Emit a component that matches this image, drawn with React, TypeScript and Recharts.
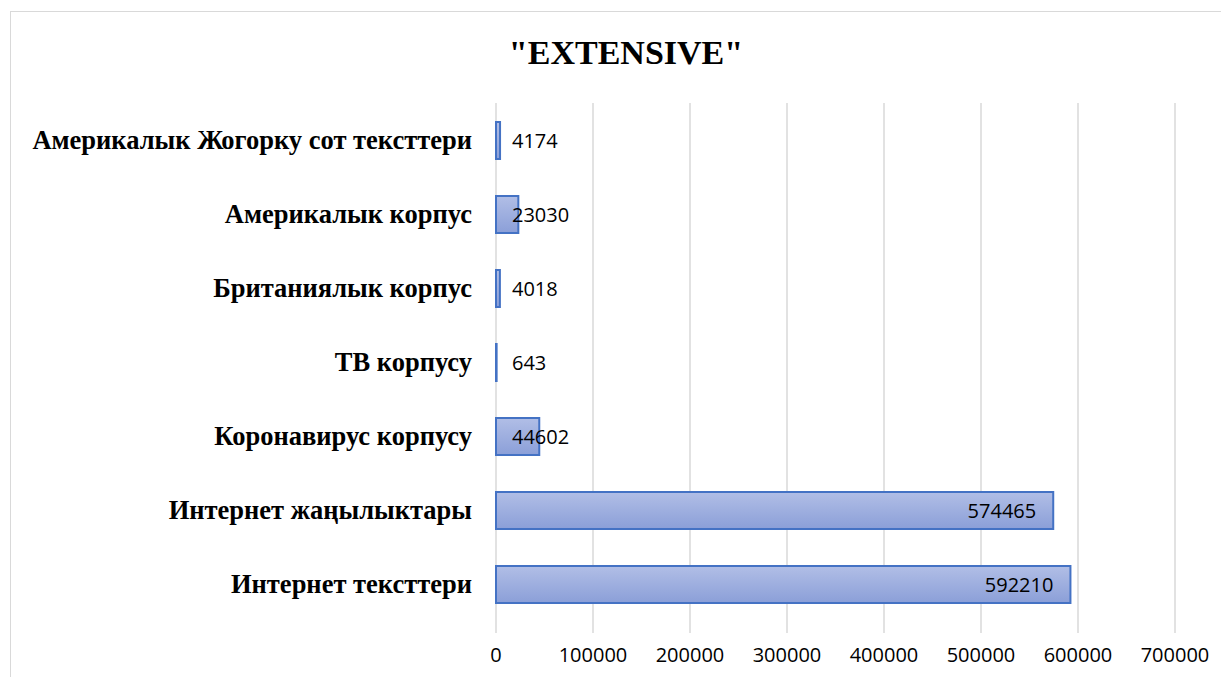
import React from 'react';
import { BarChart, Bar, XAxis, YAxis, CartesianGrid, LabelList } from 'recharts';

const categories = [
  'Америкалык Жогорку сот тексттери',
  'Америкалык корпус',
  'Британиялык корпус',
  'ТВ корпусу',
  'Коронавирус корпусу',
  'Интернет жаңылыктары',
  'Интернет тексттери',
];
const values = [4174, 23030, 4018, 643, 44602, 574465, 592210];
const xTicks = [0, 100000, 200000, 300000, 400000, 500000, 600000, 700000];

const data = categories.map((name, i) => ({ name, value: values[i] }));

const ValueLabel = (props: any) => {
  const { x, y, width, height, value } = props;
  const big = width > 120;
  return (
    <text
      x={big ? x + width - 17 : x + 16}
      y={y + height / 2}
      dy="0.36em"
      textAnchor={big ? 'end' : 'start'}
      fontFamily="'Open Sans', sans-serif"
      fontSize={20}
      fill="#000"
    >
      {value}
    </text>
  );
};

export default function App() {
  return (
    <div style={{ position: 'relative', width: 1221, height: 669, overflow: 'hidden', background: '#fff' }}>
      <div
        style={{
          position: 'absolute',
          left: 2,
          top: 3,
          width: 1300,
          height: 800,
          border: '1.5px solid #d9d9d9',
        }}
      />
      <div
        style={{
          position: 'absolute',
          left: 0,
          width: 1236,
          top: 27,
          textAlign: 'center',
          fontFamily: "'Liberation Serif', 'Times New Roman', serif",
          fontWeight: 'bold',
          fontSize: 34,
          lineHeight: '36px',
          color: '#000',
        }}
      >
        "EXTENSIVE"
      </div>
      <BarChart
        width={1221}
        height={669}
        data={data}
        layout="vertical"
        margin={{ top: 95, right: 54, left: 0, bottom: 10 }}
        style={{ position: 'absolute', left: 0, top: 0 }}
      >
        <defs>
          <linearGradient id="barFill" x1="0" y1="0" x2="0" y2="1">
            <stop offset="0%" stopColor="#b1bee6" />
            <stop offset="100%" stopColor="#8b9fd8" />
          </linearGradient>
        </defs>
        <CartesianGrid horizontal={false} stroke="#d9d9d9" strokeWidth={1.5} />
        <XAxis
          type="number"
          domain={[0, 700000]}
          ticks={xTicks}
          interval={0}
          height={46}
          axisLine={false}
          tickLine={{ stroke: '#d9d9d9', strokeWidth: 1.5 }}
          tickSize={12}
          tickMargin={15}
          tick={{ fill: '#000', fontSize: 20, fontFamily: "'Open Sans', sans-serif" }}
        />
        <YAxis
          type="category"
          dataKey="name"
          width={488}
          axisLine={false}
          tickLine={false}
          tickSize={0}
          tickMargin={24}
          interval={0}
          tick={{
            fill: '#000',
            fontSize: 26.5,
            fontWeight: 'bold',
            fontFamily: "'Liberation Serif', 'Times New Roman', serif",
          }}
        />
        <Bar
          dataKey="value"
          fill="url(#barFill)"
          stroke="#4472c4"
          strokeWidth={2}
          barSize={37}
          isAnimationActive={false}
        >
          <LabelList dataKey="value" content={ValueLabel} />
        </Bar>
      </BarChart>
    </div>
  );
}
